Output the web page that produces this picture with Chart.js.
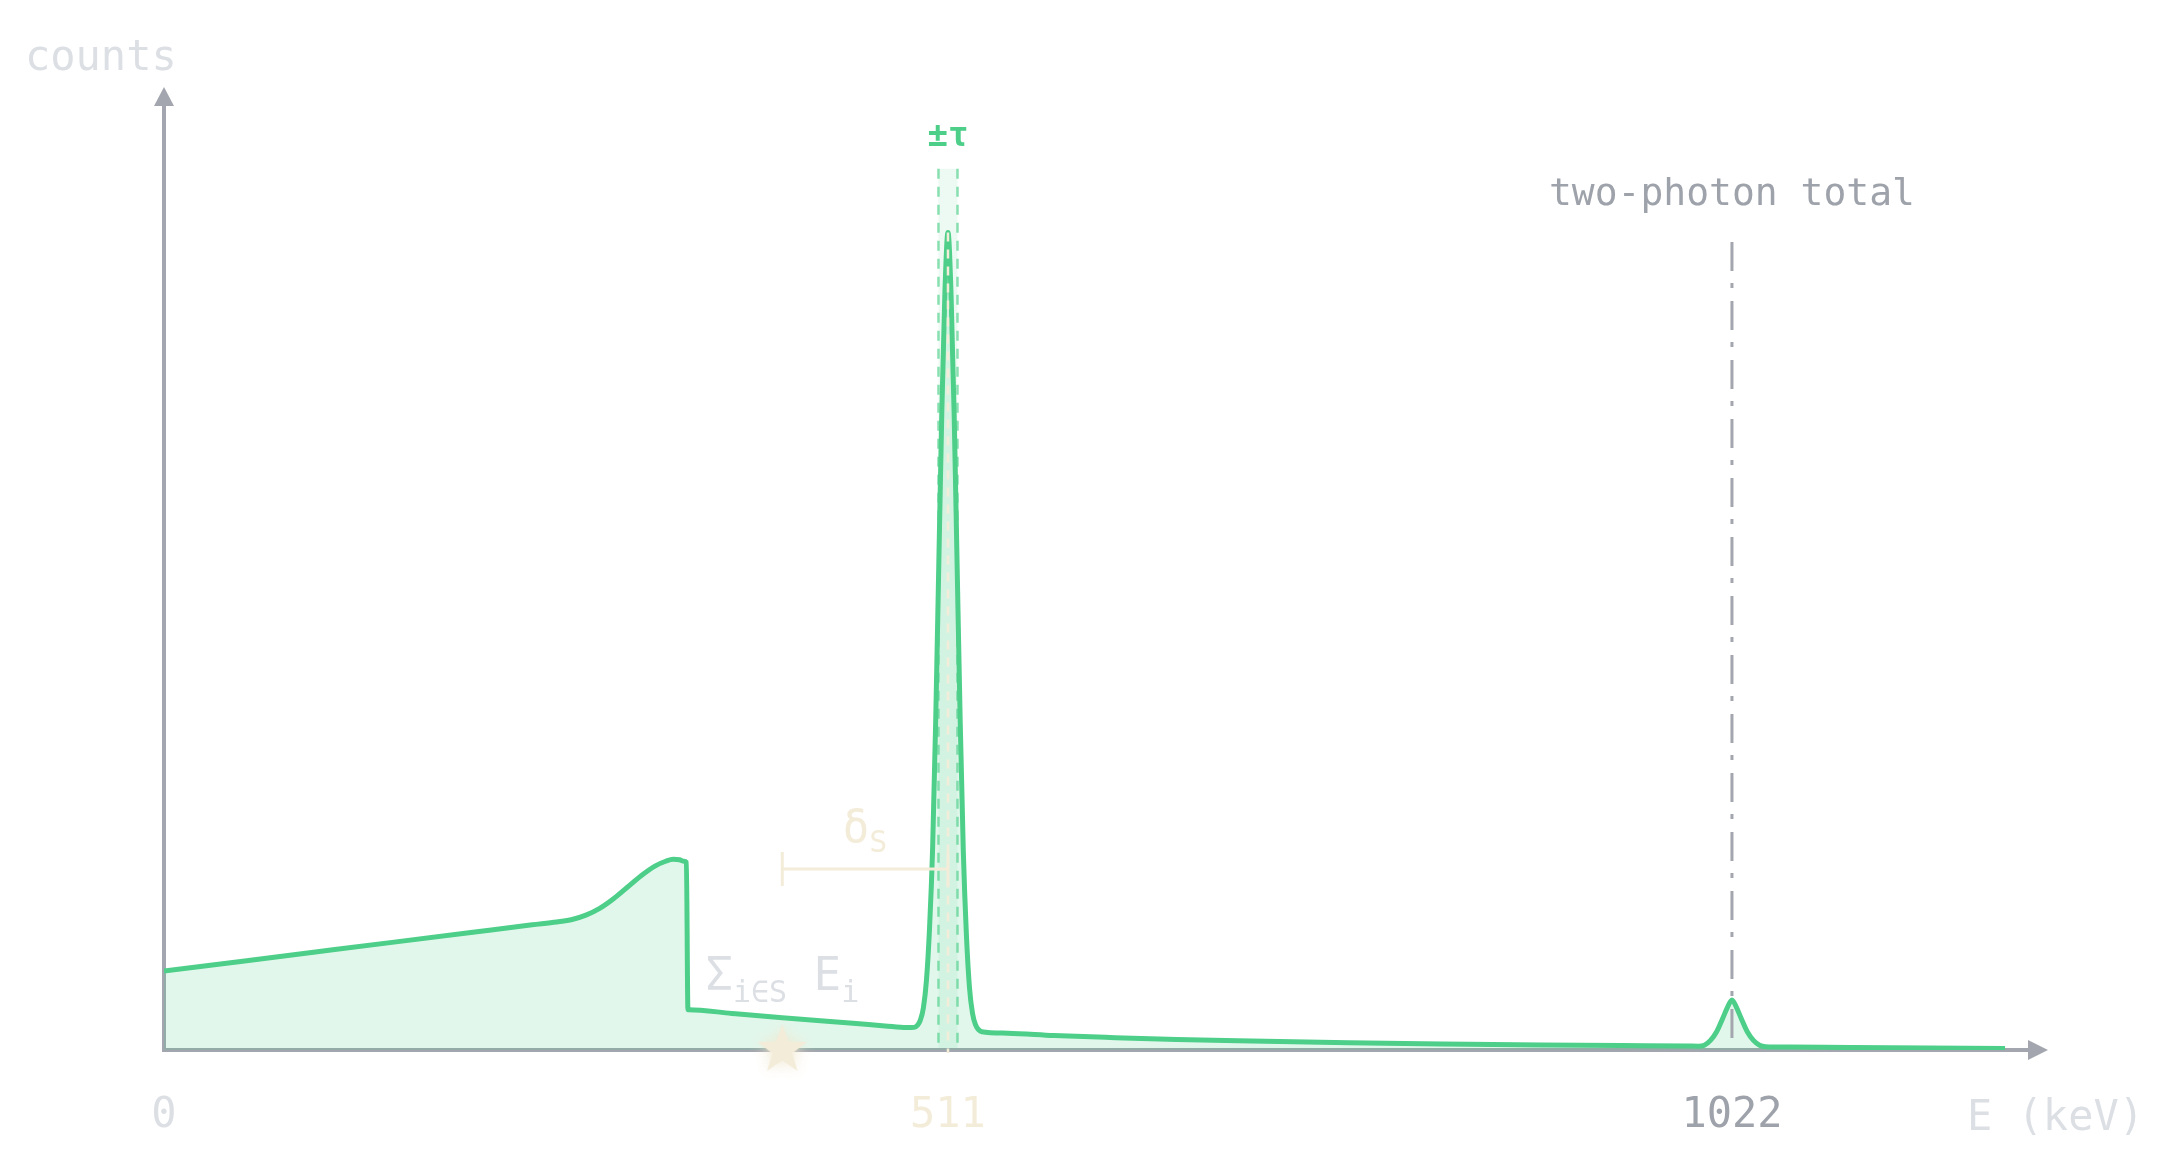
<!DOCTYPE html>
<html>
<head>
<meta charset="utf-8">
<script src="https://cdn.jsdelivr.net/npm/chart.js@4.4.1/dist/chart.umd.min.js"></script>
<style>
  html, body { margin: 0; padding: 0; background: #ffffff; overflow: hidden; }
  #wrap { width: 2174px; height: 1166px; position: relative; }
</style>
</head>
<body>
<div id="wrap"><canvas id="spectrum"></canvas></div>
<script>
// spectrum: energy in keV, counts in arbitrary units (0..1000 = axis height)
const energy = [0, 50, 100, 150, 200, 240, 256, 266, 275, 284, 293, 302, 311, 320, 327, 332, 336, 339, 340.5,
  341.5, 342, 370, 403, 430, 447, 470, 484,
  489, 491, 493, 495, 497, 499, 501, 503, 505, 507, 509, 511, 513, 515, 517, 519, 521, 523, 525, 527, 529, 531, 533,
  550, 580, 620, 660, 700, 772, 850, 898, 950, 993,
  1000, 1004, 1008, 1012, 1016, 1019, 1022, 1025, 1028, 1032, 1036, 1040, 1044,
  1060, 1100, 1150, 1200];
const counts = [82, 92, 102, 112, 122, 130, 133, 135.5, 140, 147, 157, 169, 181, 191, 196, 198, 197.5, 196, 195,
  42, 41.9, 38, 33.5, 30, 28, 25, 23.3,
  23.5, 25.5, 31, 44, 73, 127, 210, 342, 503, 664, 787, 849, 785, 662, 500, 339, 206, 120, 65, 38, 26, 21, 19,
  17.5, 15, 12.8, 11, 9.5, 7.5, 6, 5.2, 4.6, 4.2,
  4, 5, 10, 19, 33, 44, 52, 44, 33, 19, 10, 5, 3.5,
  3, 2.5, 2, 1.5];

const tickValues = [0, 511, 1022];
const tickLabels = ['0', '511', '1022'];

const photopeak = 511;
const tau = 6.2;          // half width of the acceptance window
const windowTop = 915;    // height the window lines reach
const sumPeak = 1022;
const sumLineTop = 839;
const bracketE = [403, 511];
const bracketLevel = 188;
const starE = [403];

const C = {
  green: '#4dcf89',
  fill: 'rgba(77,207,137,0.16)',
  band: 'rgba(77,207,137,0.10)',
  dash: 'rgba(77,207,137,0.65)',
  axis: '#a3a6ae',
  grey: '#9ea2aa',
  light: '#dcdfe4',
  beige: '#f3ecd9'
};
const tickColors = [C.light, C.beige, C.grey];
const MONO = '"DejaVu Sans Mono", "Liberation Mono", monospace';

function makeStar() {
  const c = document.createElement('canvas');
  c.width = 90; c.height = 90;
  const g = c.getContext('2d');
  g.shadowColor = 'rgba(240,232,208,0.95)';
  g.shadowBlur = 14;
  g.fillStyle = C.beige;
  g.beginPath();
  for (let i = 0; i < 10; i++) {
    const r = i % 2 ? 10.5 : 26;
    const a = -Math.PI / 2 + i * Math.PI / 5;
    g.lineTo(45 + r * Math.cos(a), 45 + r * Math.sin(a));
  }
  g.closePath();
  g.fill();
  return c;
}

function vline(ctx, x, y0, y1, color, width, dash) {
  ctx.save();
  ctx.strokeStyle = color;
  ctx.lineWidth = width;
  ctx.setLineDash(dash);
  ctx.beginPath();
  ctx.moveTo(x, y0);
  ctx.lineTo(x, y1);
  ctx.stroke();
  ctx.restore();
}

// draw text pieces [text, size, dy] side by side, centred on cx
function pieces(ctx, list, cx, baseline, color) {
  ctx.save();
  ctx.fillStyle = color;
  ctx.textBaseline = 'alphabetic';
  ctx.textAlign = 'left';
  let total = 0;
  list.forEach(p => { ctx.font = p[1] + 'px ' + MONO; p.w = ctx.measureText(p[0]).width; total += p.w; });
  let x = cx - total / 2;
  list.forEach(p => { ctx.font = p[1] + 'px ' + MONO; ctx.fillText(p[0], x, baseline + p[2]); x += p.w; });
  ctx.restore();
}

const decor = {
  id: 'decor',
  beforeDatasetsDraw(chart) {
    const {ctx, chartArea: a, scales: {x, y}} = chart;
    // acceptance window
    const xl = x.getPixelForValue(photopeak - tau), xr = x.getPixelForValue(photopeak + tau);
    ctx.save();
    ctx.fillStyle = C.band;
    ctx.fillRect(xl, y.getPixelForValue(windowTop), xr - xl, y.getPixelForValue(0) - y.getPixelForValue(windowTop));
    ctx.restore();
    vline(ctx, xl, y.getPixelForValue(windowTop), y.getPixelForValue(0), C.dash, 2.5, [10, 8]);
    vline(ctx, xr, y.getPixelForValue(windowTop), y.getPixelForValue(0), C.dash, 2.5, [10, 8]);
    // axes with arrow heads
    ctx.save();
    ctx.strokeStyle = C.axis;
    ctx.fillStyle = C.axis;
    ctx.lineWidth = 4;
    ctx.beginPath();
    ctx.moveTo(a.left, a.bottom);
    ctx.lineTo(a.right - 20, a.bottom);
    ctx.moveTo(a.left, a.bottom + 2);
    ctx.lineTo(a.left, a.top + 19);
    ctx.stroke();
    ctx.beginPath();
    ctx.moveTo(a.right, a.bottom);
    ctx.lineTo(a.right - 20, a.bottom - 10);
    ctx.lineTo(a.right - 20, a.bottom + 10);
    ctx.closePath();
    ctx.moveTo(a.left, a.top);
    ctx.lineTo(a.left - 10, a.top + 19);
    ctx.lineTo(a.left + 10, a.top + 19);
    ctx.closePath();
    ctx.fill();
    ctx.restore();
  },
  afterDatasetsDraw(chart) {
    const {ctx, scales: {x, y}} = chart;
    const px = x.getPixelForValue(photopeak);
    vline(ctx, px, y.getPixelForValue(counts[energy.indexOf(photopeak)]), y.getPixelForValue(0) + 3, C.beige, 2.5, [9, 8]);
    const sx = x.getPixelForValue(sumPeak);
    vline(ctx, sx, y.getPixelForValue(sumLineTop), y.getPixelForValue(0), C.axis, 3, [29, 12, 5, 13]);
  },
  afterDraw(chart) {
    const {ctx, chartArea: a, scales: {x, y}} = chart;
    ctx.save();
    ctx.textBaseline = 'alphabetic';
    ctx.font = '42px ' + MONO;
    ctx.fillStyle = C.light;
    ctx.textAlign = 'left';
    ctx.fillText('counts', a.left - 139, a.top - 17);
    ctx.fillText('E (keV)', a.right - 81, a.bottom + 80);
    ctx.textAlign = 'center';
    ctx.font = 'bold 34px ' + MONO;
    ctx.fillStyle = C.green;
    ctx.fillText('±τ', x.getPixelForValue(photopeak), 146);
    ctx.font = '38px ' + MONO;
    ctx.fillStyle = C.grey;
    ctx.fillText('two-photon total', x.getPixelForValue(sumPeak), y.getPixelForValue(sumLineTop) - 37);
    ctx.restore();
    const mid = (x.getPixelForValue(bracketE[0]) + x.getPixelForValue(bracketE[1])) / 2;
    pieces(ctx, [['δ', 44, 0], ['S', 30, 10]], mid, y.getPixelForValue(bracketLevel) - 27, C.beige);
    pieces(ctx, [['Σ', 46, 0], ['i∈S', 30, 12], [' ', 44, 0], ['E', 46, 0], ['i', 30, 12]],
      x.getPixelForValue(starE[0]), y.getPixelForValue(0) - 60, C.light);
  }
};

new Chart(document.getElementById('spectrum'), {
  type: 'line',
  data: {
    datasets: [
      {
        label: 'sum',
        data: starE.map(e => ({x: e, y: 0})),
        showLine: false,
        pointStyle: makeStar(),
        pointRadius: 25,
        clip: false,
        order: 1
      },
      {
        label: 'delta',
        data: bracketE.map(e => ({x: e, y: bracketLevel})),
        borderColor: C.beige,
        borderWidth: 3,
        pointStyle: 'line',
        pointRotation: 90,
        pointRadius: 17,
        pointBorderColor: C.beige,
        pointBorderWidth: 3,
        order: 2
      },
      {
        label: 'spectrum',
        data: energy.map((e, i) => ({x: e, y: counts[i]})),
        borderColor: C.green,
        backgroundColor: C.fill,
        borderWidth: 5,
        fill: 'origin',
        pointRadius: 0,
        cubicInterpolationMode: 'monotone',
        order: 3
      }
    ]
  },
  options: {
    responsive: true,
    maintainAspectRatio: false,
    animation: false,
    layout: { padding: { left: 164, right: 126, top: 87, bottom: 0 } },
    plugins: { legend: { display: false }, tooltip: { enabled: false } },
    scales: {
      x: {
        type: 'linear',
        min: 0,
        max: 1228,
        grid: { display: false, drawTicks: false },
        border: { display: false },
        afterBuildTicks: s => { s.ticks = tickValues.map(v => ({value: v})); },
        afterFit: s => { s.height = 116; },
        ticks: {
          autoSkip: false,
          maxRotation: 0,
          padding: 41,
          font: { family: MONO, size: 42 },
          color: c => tickColors[c.index],
          callback: (v, i) => tickLabels[i]
        }
      },
      y: { display: false, min: 0, max: 1000 }
    }
  },
  plugins: [decor]
});
</script>
</body>
</html>
